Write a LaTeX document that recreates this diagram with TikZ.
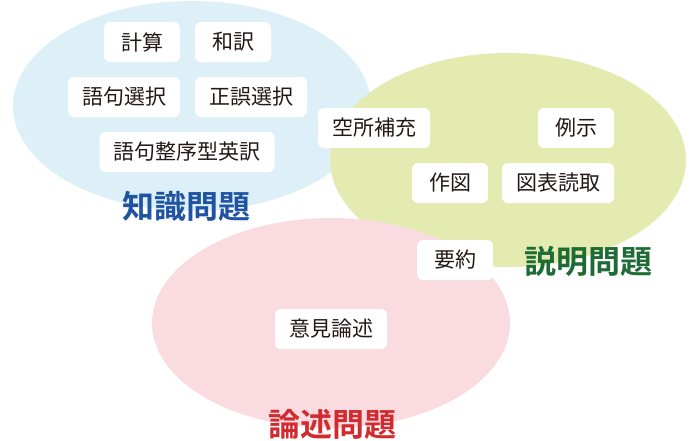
\documentclass[tikz,border=0pt]{standalone}
\usepackage{fontspec}
\setmainfont{Noto Sans CJK JP}[BoldFont={Noto Sans CJK JP Bold}]
\usetikzlibrary{positioning}
\definecolor{skyfill}{HTML}{DDF0F8}
\definecolor{leaffill}{HTML}{E3EBB0}
\definecolor{rosefill}{HTML}{FADCE0}
\definecolor{skytext}{HTML}{2053A2}
\definecolor{leaftext}{HTML}{1E6B35}
\definecolor{rosetext}{HTML}{D12B30}
\definecolor{ink}{HTML}{231815}

\begin{document}
\begin{tikzpicture}[
  x=1pt,y=-1pt,
  tag/.style={rounded corners=6pt,fill=white,text=ink,minimum height=40pt,
              minimum width=76pt,inner xsep=14pt,font=\fontsize{21}{25}\selectfont},
  group/.style={font=\bfseries\fontsize{32}{36}\selectfont}
]
\useasboundingbox (0,0) rectangle (700,440);
\fill[skyfill] (192,106) ellipse [x radius=179pt,y radius=105pt];
\fill[leaffill] (508,160) ellipse [x radius=178pt,y radius=107pt];
\fill[rosefill] (331,323) ellipse [x radius=179pt,y radius=105pt];
% knowledge
\node[tag] (keisan) at (142,42) {計算};
\node[tag] (wayaku) at (233,42) {和訳};
\node[tag] (gokusen) at (124,97) {語句選択};
\node[tag] (seigo) at (251,97) {正誤選択};
\node[tag] (seijo) at (187,152) {語句整序型英訳};
\node[group,text=skytext] (chishiki) at (186,206) {知識問題};
% explanation
\node[tag] (kusho) at (374,128) {空所補充};
\node[tag] (reiji) at (576,128) {例示};
\node[tag] (sakuzu) at (450,183) {作図};
\node[tag] (zuhyo) at (558,183) {図表読取};
\node[tag] (yoyaku) at (455,260) {要約};
\node[group,text=leaftext] (setsumei) at (588,261) {説明問題};
% essay
\node[tag] (iken) at (331,329) {意見論述};
\node[group,text=rosetext] (ronjutsu) at (332,424) {論述問題};
\end{tikzpicture}
\end{document}
